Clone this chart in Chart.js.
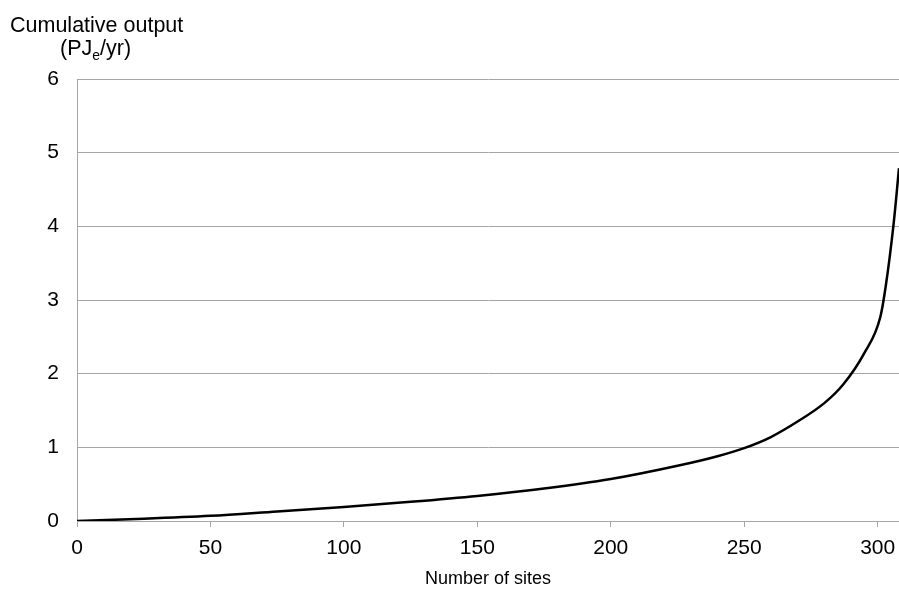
<!DOCTYPE html>
<html>
<head>
<meta charset="utf-8">
<script src="https://cdn.jsdelivr.net/npm/chart.js@4"></script>
<style>
  html, body { margin: 0; padding: 0; background: #fff; }
  canvas { display: block; }
</style>
</head>
<body>
<canvas id="sites" width="899" height="590"></canvas>
<script>
// number of sites (x) and cumulative output in PJe/yr (y)
const siteCounts = [0, 25, 50, 75, 100, 125, 150, 175, 200, 225, 240, 250, 260, 270, 280, 287, 295, 301, 303, 306, 308];
const cumulativeOutput = [0, 0.03, 0.07, 0.13, 0.19, 0.26, 0.34, 0.44, 0.57, 0.75, 0.88, 0.99, 1.14, 1.35, 1.6, 1.85, 2.28, 2.77, 3.18, 4.04, 4.79];
const xTicks = [0, 50, 100, 150, 200, 250, 300];
const yTicks = [0, 1, 2, 3, 4, 5, 6];

const FONT = "'Liberation Sans', Arial, sans-serif";
const grey = '#a6a6a6';

// y axis title sits above the plot, with a subscript "e"
const unitTitle = {
    id: 'unitTitle',
    afterDraw(chart) {
        const ctx = chart.ctx;
        ctx.save();
        ctx.fillStyle = '#000';
        ctx.textBaseline = 'alphabetic';
        ctx.textAlign = 'left';
        ctx.font = '21.5px ' + FONT;
        ctx.fillText('Cumulative output', 10, 32);

        let x = 60;
        ctx.fillText('(PJ', x, 55);
        x += ctx.measureText('(PJ').width;
        ctx.font = '14px ' + FONT;
        ctx.fillText('e', x, 60);
        x += ctx.measureText('e').width;
        ctx.font = '21.5px ' + FONT;
        ctx.fillText('/yr)', x, 55);
        ctx.restore();
    }
};

new Chart('sites', {
    type: 'line',
    data: {
        datasets: [{
            data: siteCounts.map((s, i) => ({ x: s, y: cumulativeOutput[i] })),
            borderColor: '#000',
            borderWidth: 2.5,
            pointRadius: 0,
            cubicInterpolationMode: 'monotone',
            fill: false
        }]
    },
    options: {
        responsive: false,
        animation: false,
        layout: { padding: { top: 79, right: 0, left: 0, bottom: 0 } },
        plugins: {
            legend: { display: false },
            tooltip: { enabled: false }
        },
        scales: {
            x: {
                type: 'linear',
                min: 0,
                max: 308,
                afterFit: scale => {
                    scale.height = 69;
                    scale.paddingLeft = 0;
                    scale.paddingRight = 0;
                },
                afterBuildTicks: scale => { scale.ticks = xTicks.map(v => ({ value: v })); },
                ticks: {
                    color: '#000',
                    font: { family: FONT, size: 21 },
                    padding: 9,
                    maxRotation: 0
                },
                grid: {
                    drawOnChartArea: false,
                    drawTicks: true,
                    tickLength: 6,
                    color: grey
                },
                border: { color: grey, width: 1 },
                title: {
                    display: true,
                    text: 'Number of sites',
                    color: '#000',
                    font: { family: FONT, size: 18 },
                    padding: { top: -3, bottom: 0 }
                }
            },
            y: {
                min: 0,
                max: 6,
                afterFit: scale => { scale.width = 77; },
                afterBuildTicks: scale => { scale.ticks = yTicks.map(v => ({ value: v })); },
                ticks: {
                    color: '#000',
                    font: { family: FONT, size: 21 },
                    padding: 18
                },
                grid: {
                    drawTicks: false,
                    color: grey,
                    lineWidth: 1
                },
                border: { color: grey, width: 1 }
            }
        }
    },
    plugins: [unitTitle]
});
</script>
</body>
</html>
